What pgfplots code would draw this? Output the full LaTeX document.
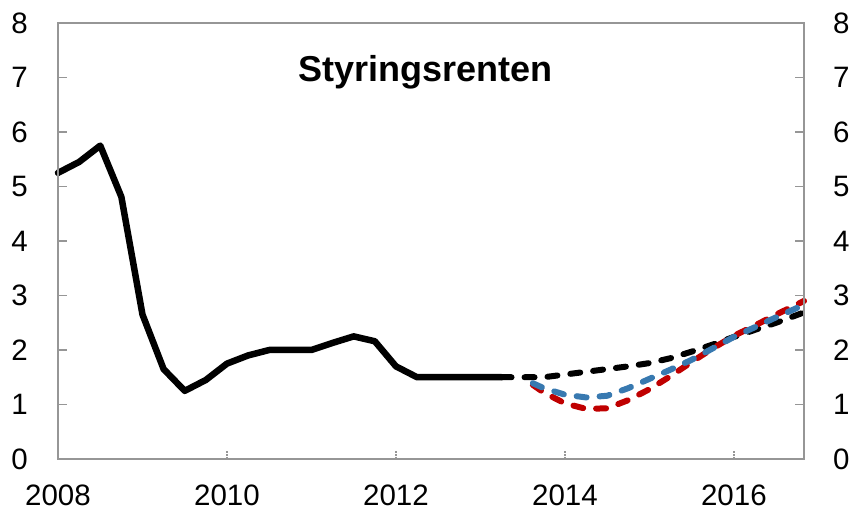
\documentclass[border=0pt]{standalone}
\usepackage{fontspec}
\setmainfont{Liberation Sans}
\usepackage{pgfplots}
\pgfplotsset{compat=1.18}
\definecolor{nbred}{RGB}{192,0,0}
\definecolor{nbblue}{RGB}{56,121,176}
\definecolor{framegray}{RGB}{150,150,150}

\begin{document}
\begin{tikzpicture}
\useasboundingbox (-58pt,-54pt) rectangle (801pt,459pt);
\pgfplotsset{
  base/.style={scale only axis, width=746pt, height=436pt,
    xmin=2008, xmax=2016.83, ymin=0, ymax=8,
    ytick={0,1,...,8},
    axis line style={framegray, line width=1.4pt},
    tick style={framegray, line width=1.4pt},
    tick align=inside, major tick length=9pt,
    /pgf/number format/assume math mode=true,
    tick label style={font=\fontsize{29.5}{34}\selectfont, inner sep=0pt},
    clip=false},
}
\begin{axis}[base,
  ytick pos=left,
  xtick={2010,2012,2014,2016},
  xticklabels={2010,2012,2014,2016},
  extra x ticks={2008},
  extra x tick labels={2008},
  extra x tick style={major tick length=0pt},
  x tick style={framegray, dash pattern=on 1.6pt off 1.6pt, line width=1.4pt},
  xtick pos=bottom,
  xticklabel style={yshift=-26pt},
  yticklabel style={xshift=-30pt},
  every axis plot/.append style={line join=round},
  ]
\addplot[black, line width=6.5pt, line cap=round] coordinates {
  (2008.00,5.25) (2008.25,5.45) (2008.50,5.75) (2008.75,4.81)
  (2009.00,2.65) (2009.25,1.65) (2009.50,1.25) (2009.75,1.45)
  (2010.00,1.75) (2010.25,1.90) (2010.50,2.00) (2010.75,2.00)
  (2011.00,2.00) (2011.25,2.13) (2011.50,2.25) (2011.75,2.16)
  (2012.00,1.70) (2012.25,1.50) (2012.50,1.50) (2012.75,1.50)
  (2013.00,1.50) (2013.25,1.50)};
\addplot[black, line width=6pt, line cap=round, dash pattern=on 10pt off 13pt] coordinates {
  (2013.25,1.50) (2013.50,1.50) (2013.75,1.50) (2014.00,1.55)
  (2014.25,1.60) (2014.50,1.65) (2014.75,1.70) (2015.00,1.76)
  (2015.25,1.85) (2015.50,1.97) (2015.75,2.10) (2016.00,2.24)
  (2016.25,2.37) (2016.50,2.50) (2016.83,2.69)};
\addplot[nbred, line width=6pt, line cap=round, dash pattern=on 10pt off 13pt] coordinates {
  (2013.62,1.36) (2013.75,1.22) (2014.00,1.02) (2014.25,0.92)
  (2014.50,0.93) (2014.75,1.08) (2015.00,1.28) (2015.25,1.52)
  (2015.50,1.78) (2015.75,2.03) (2016.00,2.26) (2016.25,2.45)
  (2016.50,2.65) (2016.83,2.90)};
\addplot[nbblue, line width=6pt, line cap=round, dash pattern=on 10pt off 13pt] coordinates {
  (2013.62,1.39) (2013.75,1.30) (2014.00,1.18) (2014.25,1.13)
  (2014.50,1.16) (2014.75,1.30) (2015.00,1.47) (2015.25,1.64)
  (2015.50,1.82) (2015.75,2.03) (2016.00,2.24) (2016.25,2.42)
  (2016.50,2.60) (2016.83,2.83)};
\node[anchor=base, font=\fontsize{36}{40}\selectfont\bfseries]
  at (rel axis cs:0.492,0.865) {Styringsrenten};
\end{axis}
\begin{axis}[base,
  xtick=\empty,
  ytick pos=right,
  yticklabel pos=right,
  yticklabel style={xshift=29pt},
  ]
\end{axis}
\end{tikzpicture}
\end{document}
